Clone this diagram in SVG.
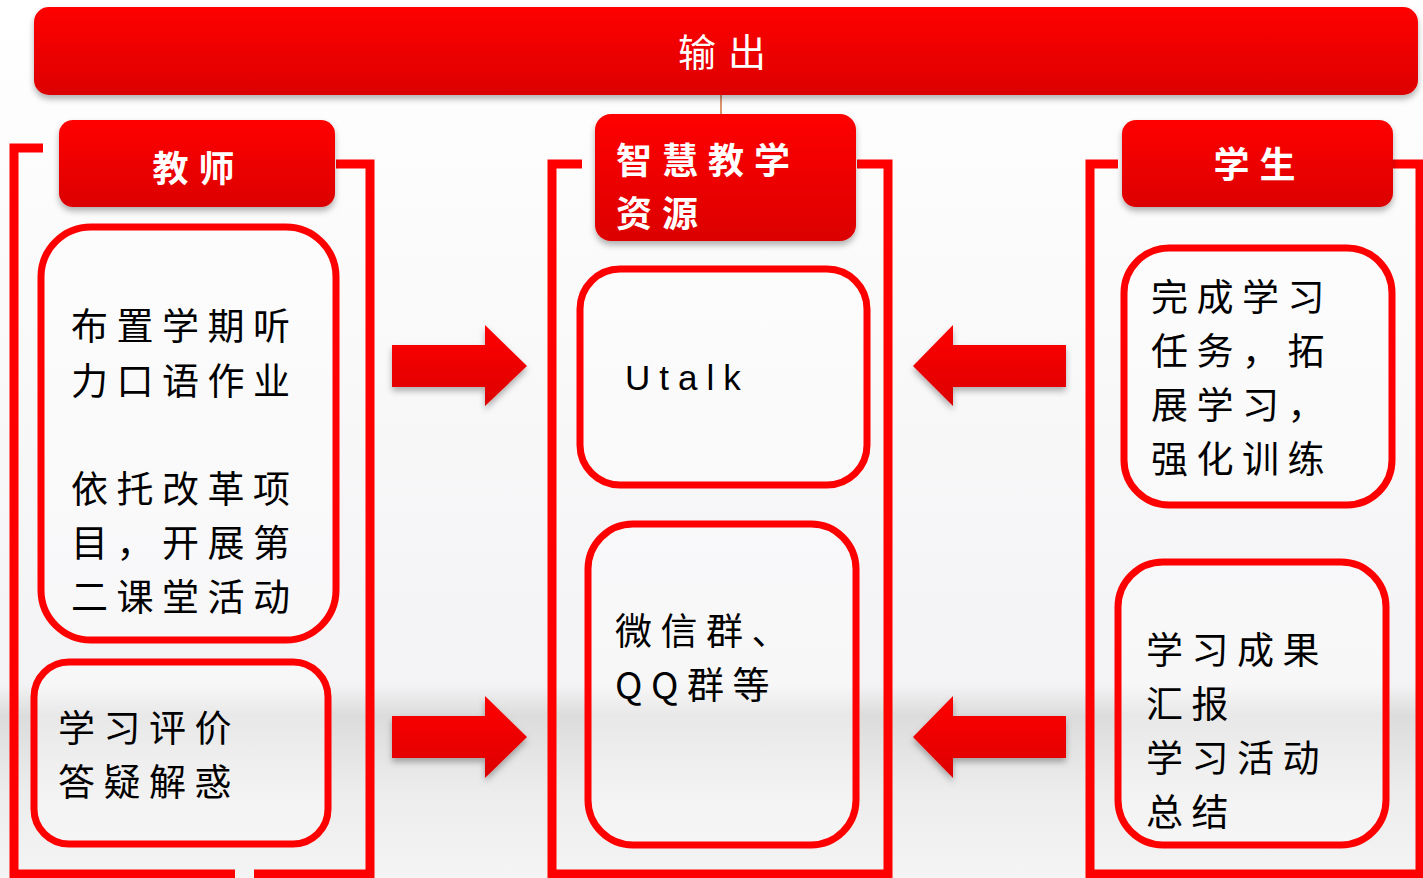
<svg xmlns="http://www.w3.org/2000/svg" width="1423" height="878" viewBox="0 0 1423 878">
<defs>
<linearGradient id="bg" x1="0" y1="0" x2="0" y2="1">
<stop offset="0" stop-color="#ffffff"/>
<stop offset="0.78" stop-color="#f3f3f5"/>
<stop offset="0.815" stop-color="#dcdcdc"/>
<stop offset="0.9" stop-color="#ececec"/>
<stop offset="1" stop-color="#f4f4f4"/>
</linearGradient>
<linearGradient id="red" x1="0" y1="0" x2="0" y2="1">
<stop offset="0" stop-color="#ff0000"/>
<stop offset="1" stop-color="#dc0000"/>
</linearGradient>
<filter id="sh" x="-5%" y="-20%" width="110%" height="150%">
<feDropShadow dx="0" dy="4" stdDeviation="3" flood-color="#000" flood-opacity="0.3"/>
</filter>
<style>
.hdr{fill:url(#red);filter:url(#sh)}
.frame{fill:none;stroke:#ff0000;stroke-width:9}
.box{fill:#ffffff;fill-opacity:0.35;stroke:#ff0000;stroke-width:7}
.ht{font-family:"Noto Sans CJK SC","Noto Sans",sans-serif;font-weight:bold;font-size:36px;fill:#ffffff;letter-spacing:10px}
.bt{font-family:"Noto Sans CJK SC","Noto Sans",sans-serif;font-size:37px;fill:#000000;letter-spacing:8.5px}
.arrow{fill:url(#red);filter:url(#sh)}
</style>
</defs>
<rect x="0" y="0" width="1423" height="878" fill="url(#bg)"/>

<g id="connectors">
<line x1="721" y1="95" x2="721" y2="114" stroke="#d0703a" stroke-width="1.5"/>
<polygon class="arrow" points="392,345 485,345 485,325 527,366 485,406 485,387 392,387"/>
<polygon class="arrow" points="392,716 485,716 485,696 527,737 485,778 485,758 392,758"/>
<polygon class="arrow" points="1066,345 953,345 953,325 913,366 953,406 953,387 1066,387"/>
<polygon class="arrow" points="1066,716 953,716 953,696 913,737 953,778 953,758 1066,758"/>
</g>

<g id="frames">
<polyline class="frame" points="43,148 14,148 14,874 235,874"/>
<polyline class="frame" points="254,874 370,874 370,164 336,164"/>
<polyline class="frame" points="582,164 552,164 552,874 888,874 888,164 857,164"/>
<polyline class="frame" points="1118,164 1090,164 1090,874 1423,874"/>
<polyline class="frame" points="1393,164 1420,164 1420,874"/>
</g>

<g id="output">
<rect class="hdr" x="34" y="7" width="1384" height="88" rx="15"/>
<text x="728" y="66" text-anchor="middle" font-family="Noto Sans CJK SC, Noto Sans, sans-serif" font-size="38" fill="#ffffff" letter-spacing="12">输出</text>
</g>

<g id="teacher">
<rect class="hdr" x="59" y="120" width="276" height="87" rx="14"/>
<text class="ht" x="198.5" y="182" text-anchor="middle">教师</text>
</g>

<g id="resource">
<rect class="hdr" x="595" y="114" width="261" height="127" rx="16"/>
<text class="ht" x="616" y="174">智慧教学</text>
<text class="ht" x="616" y="227">资源</text>
</g>

<g id="student">
<rect class="hdr" x="1122" y="120" width="271" height="87" rx="14"/>
<text class="ht" x="1259.5" y="178" text-anchor="middle">学生</text>
</g>

<g id="teacher-tasks">
<rect class="box" x="41" y="227" width="295" height="413" rx="50"/>
<text class="bt" x="71" y="340">布置学期听</text>
<text class="bt" x="71" y="395">力口语作业</text>
<text class="bt" x="71" y="503">依托改革项</text>
<text class="bt" x="71" y="557">目，开展第</text>
<text class="bt" x="71" y="611">二课堂活动</text>
</g>

<g id="teacher-eval">
<rect class="box" x="34" y="662" width="294" height="182" rx="35"/>
<text class="bt" x="58" y="742">学习评价</text>
<text class="bt" x="58" y="796">答疑解惑</text>
</g>

<g id="utalk">
<rect class="box" x="580" y="269" width="287" height="216" rx="40"/>
<text x="625" y="390" font-family="Liberation Sans, Arial, sans-serif" font-size="35" fill="#000" letter-spacing="9">Utalk</text>
</g>

<g id="wechat">
<rect class="box" x="588" y="524" width="268" height="321" rx="45"/>
<text class="bt" x="615" y="645">微信群、</text>
<text class="bt" x="615" y="699">QQ群等</text>
</g>

<g id="student-tasks">
<rect class="box" x="1124" y="248" width="268" height="257" rx="45"/>
<text class="bt" x="1151" y="311">完成学习</text>
<text class="bt" x="1151" y="365">任务，拓</text>
<text class="bt" x="1151" y="419">展学习，</text>
<text class="bt" x="1151" y="473">强化训练</text>
</g>

<g id="student-report">
<rect class="box" x="1118" y="562" width="268" height="283" rx="45"/>
<text class="bt" x="1146" y="664">学习成果</text>
<text class="bt" x="1146" y="718">汇报</text>
<text class="bt" x="1146" y="772">学习活动</text>
<text class="bt" x="1146" y="826">总结</text>
</g>
</svg>
